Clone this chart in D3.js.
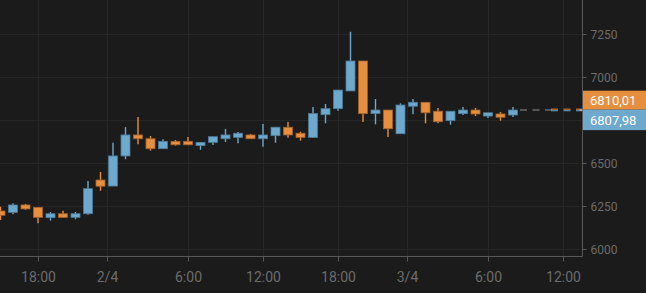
<!DOCTYPE html>
<html>
<head>
<meta charset="utf-8">
<script src="https://cdn.jsdelivr.net/npm/d3@7"></script>
<style>
  html, body { margin: 0; padding: 0; background: #1b1b1b; }
  svg { display: block; }
</style>
</head>
<body>
<div id="chart"></div>
<script>
// hourly candles, 1/4 15:00 -> 3/4 08:00
const times = [
  "2018-04-01T15:00", "2018-04-01T16:00", "2018-04-01T17:00", "2018-04-01T18:00",
  "2018-04-01T19:00", "2018-04-01T20:00", "2018-04-01T21:00", "2018-04-01T22:00",
  "2018-04-01T23:00", "2018-04-02T00:00", "2018-04-02T01:00", "2018-04-02T02:00",
  "2018-04-02T03:00", "2018-04-02T04:00", "2018-04-02T05:00", "2018-04-02T06:00",
  "2018-04-02T07:00", "2018-04-02T08:00", "2018-04-02T09:00", "2018-04-02T10:00",
  "2018-04-02T11:00", "2018-04-02T12:00", "2018-04-02T13:00", "2018-04-02T14:00",
  "2018-04-02T15:00", "2018-04-02T16:00", "2018-04-02T17:00", "2018-04-02T18:00",
  "2018-04-02T19:00", "2018-04-02T20:00", "2018-04-02T21:00", "2018-04-02T22:00",
  "2018-04-02T23:00", "2018-04-03T00:00", "2018-04-03T01:00", "2018-04-03T02:00",
  "2018-04-03T03:00", "2018-04-03T04:00", "2018-04-03T05:00", "2018-04-03T06:00",
  "2018-04-03T07:00", "2018-04-03T08:00"
];
const open  = [6221, 6213, 6256, 6242, 6182, 6205, 6184, 6205, 6401, 6366, 6541, 6663, 6641, 6583,
               6626, 6626, 6601, 6620, 6641, 6649, 6663, 6641, 6659, 6708, 6673, 6649, 6781, 6816,
               6919, 7093, 6787, 6808, 6670, 6830, 6853, 6801, 6746, 6787, 6808, 6773, 6785, 6779];
const high  = [6246, 6266, 6262, 6244, 6215, 6223, 6215, 6395, 6448, 6618, 6709, 6767, 6657, 6638,
               6634, 6651, 6620, 6653, 6698, 6680, 6669, 6727, 6709, 6738, 6682, 6826, 6843, 6924,
               7263, 7093, 6872, 6808, 6847, 6872, 6853, 6820, 6801, 6826, 6820, 6792, 6797, 6826];
const low   = [6169, 6202, 6228, 6149, 6165, 6184, 6173, 6199, 6339, 6366, 6522, 6609, 6572, 6583,
               6601, 6606, 6577, 6605, 6622, 6615, 6641, 6595, 6618, 6647, 6630, 6647, 6731, 6804,
               6919, 6738, 6725, 6651, 6670, 6783, 6731, 6731, 6723, 6779, 6773, 6762, 6746, 6767];
const close = [6196, 6256, 6233, 6184, 6205, 6184, 6205, 6351, 6365, 6541, 6663, 6641, 6583, 6626,
               6606, 6606, 6620, 6653, 6663, 6673, 6641, 6663, 6708, 6663, 6649, 6788, 6816, 6924,
               7093, 6787, 6808, 6699, 6837, 6853, 6792, 6740, 6801, 6808, 6785, 6792, 6766, 6808];

const priceTicks = [6000, 6250, 6500, 6750, 7000, 7250];
const timeTicks = ["2018-04-01T18:00", "2018-04-02T00:00", "2018-04-02T06:00", "2018-04-02T12:00",
                   "2018-04-02T18:00", "2018-04-03T00:00", "2018-04-03T06:00", "2018-04-03T12:00"];
const timeLabels = ["18:00", "2/4", "6:00", "12:00", "18:00", "3/4", "6:00", "12:00"];

const askPrice = 6810.01;
const bidPrice = 6807.98;
const askLabel = "6810,01";
const bidLabel = "6807,98";

const width = 646;
const height = 293;
const plotRight = 582.5;
const plotBottom = 256.5;

const upColor = "#6ea8cd", upStroke = "#4d7b98";
const downColor = "#e68f3f", downStroke = "#a4622a";

const parse = d3.timeParse("%Y-%m-%dT%H:%M");
const candles = times.map((t, i) => ({
  t: parse(t), o: open[i], h: high[i], l: low[i], c: close[i]
}));

const svg = d3.select("#chart")
  .append("svg")
  .attr("width", width)
  .attr("height", height)
  .style("background", "#1b1b1b")
  .attr("font-family", "Roboto, sans-serif");

const x = d3.scaleTime()
  .domain([parse("2018-04-01T15:00"), parse("2018-04-03T12:00")])
  .range([0.5, 563]);

const y = d3.scaleLinear()
  .domain([6000, 7250])
  .range([249, 34]);

const hourPx = x(parse("2018-04-01T16:00")) - x(parse("2018-04-01T15:00"));
// day labels sit between candles, half a candle to the left
const tickX = (t, i) => {
  const px = x(parse(t));
  return timeLabels[i].includes("/") ? px - hourPx / 2 : px;
};

// grid
svg.append("g")
  .selectAll("line")
  .data(priceTicks)
  .join("line")
  .attr("x1", 0).attr("x2", plotRight)
  .attr("y1", d => Math.round(y(d)) + 0.5)
  .attr("y2", d => Math.round(y(d)) + 0.5)
  .attr("stroke", "#262626");

svg.append("g")
  .selectAll("line")
  .data(timeTicks)
  .join("line")
  .attr("x1", (d, i) => Math.round(tickX(d, i)) + 0.5)
  .attr("x2", (d, i) => Math.round(tickX(d, i)) + 0.5)
  .attr("y1", 0).attr("y2", plotBottom)
  .attr("stroke", "#262626");

// candles
const bodyW = 9;
const g = svg.append("g");

g.selectAll("line.wick")
  .data(candles)
  .join("line")
  .attr("class", "wick")
  .attr("x1", d => x(d.t)).attr("x2", d => x(d.t))
  .attr("y1", d => y(d.h)).attr("y2", d => y(d.l))
  .attr("stroke", d => d.c >= d.o ? upColor : downColor)
  .attr("stroke-width", 1.4);

g.selectAll("rect.body")
  .data(candles)
  .join("rect")
  .attr("class", "body")
  .attr("x", d => x(d.t) - bodyW / 2)
  .attr("width", bodyW)
  .attr("y", d => y(Math.max(d.o, d.c)))
  .attr("height", d => Math.max(2.5, Math.abs(y(d.o) - y(d.c))))
  .attr("fill", d => d.c >= d.o ? upColor : downColor)
  .attr("stroke", d => d.c >= d.o ? upStroke : downStroke)
  .attr("stroke-width", 0.8);

// last price lines
const lastX = x(candles[candles.length - 1].t);
svg.append("line")
  .attr("x1", lastX + 7).attr("x2", lastX + 39)
  .attr("y1", y(bidPrice)).attr("y2", y(bidPrice))
  .attr("stroke", "#6a6a6a")
  .attr("stroke-width", 1.5)
  .attr("stroke-dasharray", "7,5.5");

svg.append("line")
  .attr("x1", lastX + 38).attr("x2", plotRight)
  .attr("y1", y(askPrice) - 0.5).attr("y2", y(askPrice) - 0.5)
  .attr("stroke", downColor)
  .attr("stroke-dasharray", "7,5.5");

svg.append("line")
  .attr("x1", lastX + 38).attr("x2", plotRight)
  .attr("y1", y(bidPrice) + 0.7).attr("y2", y(bidPrice) + 0.7)
  .attr("stroke", upColor)
  .attr("stroke-dasharray", "7,5.5");

// axes
const axisColor = "#585858";
const labelColor = "#6c6c6c";

const xAxis = svg.append("g");
xAxis.append("line")
  .attr("x1", 0).attr("x2", plotRight)
  .attr("y1", plotBottom).attr("y2", plotBottom)
  .attr("stroke", axisColor);

const xt = xAxis.selectAll("g.tick")
  .data(timeTicks)
  .join("g")
  .attr("class", "tick")
  .attr("transform", (d, i) => `translate(${Math.round(tickX(d, i)) + 0.5},${plotBottom})`);
xt.append("line").attr("y2", 5).attr("stroke", axisColor);
xt.append("text")
  .attr("y", 25)
  .attr("text-anchor", "middle")
  .attr("fill", labelColor)
  .attr("font-size", "14px")
  .text((d, i) => timeLabels[i]);

// price tags on the axis
const tagX = plotRight + 0.5;
const askY = y(askPrice), bidY = y(bidPrice);
const tagTop = askY - 19, tagBottom = bidY + 20;

const yAxis = svg.append("g");
yAxis.append("line")
  .attr("x1", plotRight).attr("x2", plotRight)
  .attr("y1", 0).attr("y2", plotBottom)
  .attr("stroke", axisColor);

const yt = yAxis.selectAll("g.tick")
  .data(priceTicks)
  .join("g")
  .attr("class", "tick")
  .attr("transform", d => `translate(${plotRight},${Math.round(y(d)) + 0.5})`);
yt.append("line").attr("x2", 4).attr("stroke", axisColor);
// labels covered by the price tags are not drawn
yt.filter(d => y(d) + 7 < tagTop || y(d) - 7 > tagBottom)
  .append("text")
  .attr("x", 8)
  .attr("dy", "0.35em")
  .attr("fill", labelColor)
  .attr("font-size", "12px")
  .text(d => d);

svg.append("rect")
  .attr("x", tagX).attr("y", tagTop)
  .attr("width", width - tagX).attr("height", 19)
  .attr("fill", downColor);
svg.append("text")
  .attr("x", tagX + 7).attr("y", askY - 9.5)
  .attr("dy", "0.35em")
  .attr("fill", "#ffffff")
  .attr("font-size", "13px")
  .text(askLabel);

svg.append("rect")
  .attr("x", tagX).attr("y", bidY - 0.4)
  .attr("width", width - tagX).attr("height", 20.5)
  .attr("fill", upColor);
svg.append("text")
  .attr("x", tagX + 7).attr("y", bidY + 10)
  .attr("dy", "0.35em")
  .attr("fill", "#ffffff")
  .attr("font-size", "13px")
  .text(bidLabel);

svg.append("line")
  .attr("x1", plotRight - 3).attr("x2", plotRight)
  .attr("y1", bidY).attr("y2", bidY)
  .attr("stroke", "#cfcfcf");
</script>
</body>
</html>
